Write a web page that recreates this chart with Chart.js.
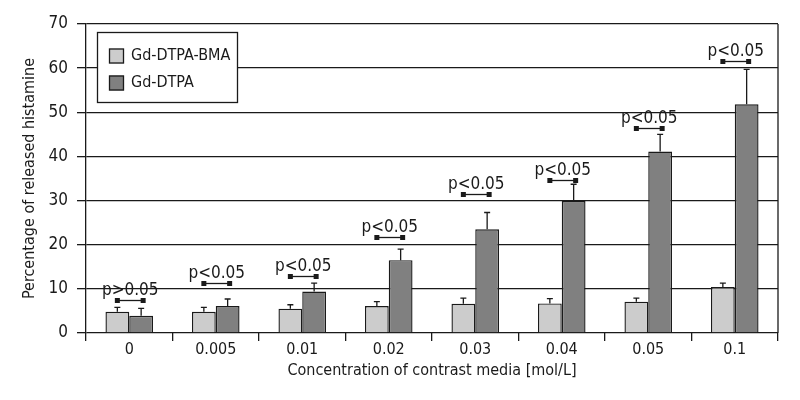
<!DOCTYPE html>
<html>
<head>
<meta charset="utf-8">
<script src="https://cdn.jsdelivr.net/npm/chart.js@4.4.1/dist/chart.umd.min.js"></script>
<style>
  html, body { margin: 0; background: #fff; }
  #wrap { width: 800px; height: 400px; }
</style>
</head>
<body>
<div id="wrap"><canvas id="histChart"></canvas></div>
<script>
// concentrations of contrast media [mol/L]
const concentrations = ["0", "0.005", "0.01", "0.02", "0.03", "0.04", "0.05", "0.1"];
// % released histamine, mean and SD (upper whisker only)
const bmaValues = [4.8, 4.8, 5.5, 6.1, 6.6, 6.7, 7.1, 10.4];
const bmaErr = [1.0, 1.0, 0.9, 1.0, 1.3, 1.1, 0.8, 0.9];
const dtpaValues = [3.9, 6.1, 9.4, 16.5, 23.5, 29.9, 41.1, 51.8];
const dtpaErr = [1.7, 1.6, 1.9, 2.5, 3.8, 3.8, 3.9, 7.9];
// significance brackets
const sigLevel = [7.5, 11.3, 12.9, 21.7, 31.4, 34.6, 46.5, 61.7];
const sigText = ["p>0.05", "p<0.05", "p<0.05", "p<0.05", "p<0.05", "p<0.05", "p<0.05", "p<0.05"];
const yTicks = [0, 10, 20, 30, 40, 50, 60, 70];

const FONT = "'DejaVu Sans Condensed', 'Liberation Sans Narrow', sans-serif";
const INK = "#1a1a1a";
Chart.defaults.font.family = FONT;
Chart.defaults.color = INK;

const errorBars = {
  id: "errorBars",
  afterDatasetsDraw(chart) {
    const ctx = chart.ctx;
    const y = chart.scales.y;
    const errs = [bmaErr, dtpaErr];
    ctx.save();
    ctx.strokeStyle = INK;
    ctx.lineWidth = 1.3;
    chart.data.datasets.forEach((ds, di) => {
      chart.getDatasetMeta(di).data.forEach((bar, i) => {
        const top = y.getPixelForValue(ds.data[i] + errs[di][i]);
        ctx.beginPath();
        ctx.moveTo(bar.x, bar.y);
        ctx.lineTo(bar.x, top);
        ctx.moveTo(bar.x - 3, top);
        ctx.lineTo(bar.x + 3, top);
        ctx.stroke();
      });
    });

    // significance brackets
    const m0 = chart.getDatasetMeta(0).data;
    const m1 = chart.getDatasetMeta(1).data;
    ctx.fillStyle = INK;
    ctx.font = "17px " + FONT;
    ctx.textAlign = "center";
    ctx.textBaseline = "alphabetic";
    sigLevel.forEach((lv, i) => {
      const py = Math.round(y.getPixelForValue(lv)) + 0.5;
      const x1 = m0[i].x, x2 = m1[i].x + 2;
      ctx.beginPath();
      ctx.moveTo(x1, py);
      ctx.lineTo(x2, py);
      ctx.stroke();
      ctx.fillRect(x1 - 2.5, py - 2.5, 5, 5);
      ctx.fillRect(x2 - 2.5, py - 2.5, 5, 5);
      ctx.fillText(sigText[i], (x1 + x2) / 2, py - 6);
    });
    ctx.restore();
  },
  afterDraw(chart) {
    const ctx = chart.ctx;
    const a = chart.chartArea;
    ctx.save();
    ctx.strokeStyle = INK;
    ctx.lineWidth = 1.3;
    // right frame line
    ctx.beginPath();
    ctx.moveTo(a.right, a.top);
    ctx.lineTo(a.right, a.bottom);
    ctx.stroke();

    // legend box
    const lx = a.left + 11, ly = a.top + 8, lw = 140, lh = 70;
    ctx.fillStyle = "#fff";
    ctx.fillRect(lx, ly, lw, lh);
    ctx.strokeRect(lx + 0.5, ly + 0.5, lw, lh);
    ctx.font = "16px " + FONT;
    ctx.textAlign = "left";
    ctx.textBaseline = "middle";
    chart.data.datasets.forEach((ds, di) => {
      const cy = ly + 24 + di * 27;
      ctx.fillStyle = ds.backgroundColor;
      ctx.fillRect(lx + 12, cy - 7.5, 15, 15);
      ctx.strokeRect(lx + 12.5, cy - 7, 14, 14);
      ctx.fillStyle = INK;
      ctx.fillText(ds.label, lx + 34, cy);
    });
    ctx.restore();
  }
};

new Chart(document.getElementById("histChart"), {
  type: "bar",
  data: {
    labels: concentrations,
    datasets: [
      {
        label: "Gd-DTPA-BMA",
        data: bmaValues,
        backgroundColor: "#cccccc",
        borderColor: INK,
        borderWidth: 1.4,
      },
      {
        label: "Gd-DTPA",
        data: dtpaValues,
        backgroundColor: "#808080",
        borderColor: INK,
        borderWidth: 1.4,
      },
    ],
  },
  options: {
    responsive: true,
    maintainAspectRatio: false,
    animation: false,
    layout: { padding: { top: 24, right: 22, left: 0, bottom: 0 } },
    datasets: { bar: { categoryPercentage: 0.55, barPercentage: 1.0 } },
    plugins: {
      legend: { display: false },
      tooltip: { enabled: false },
    },
    scales: {
      x: {
        grid: { display: true, drawOnChartArea: false, drawTicks: true, tickLength: 8, color: INK, lineWidth: 1.3, offset: true },
        border: { display: false },
        ticks: { font: { size: 16 }, color: INK, padding: -1 },
        title: { display: true, text: "Concentration of contrast media [mol/L]", font: { size: 16 }, color: INK, padding: { top: 0, bottom: 20 } },
        afterFit(scale) { scale.height = 67; },
      },
      y: {
        min: 0,
        max: 70,
        afterBuildTicks(scale) { scale.ticks = yTicks.map(v => ({ value: v })); },
        grid: { color: INK, lineWidth: 1.3, tickLength: 9 },
        border: { display: true, color: INK, width: 1.3 },
        ticks: { font: { size: 17 }, color: INK, padding: 9 },
        title: { display: true, text: "Percentage of released histamine", font: { size: 16 }, color: INK, padding: { top: 20, bottom: 0 } },
        afterFit(scale) { scale.width = 86; },
      },
    },
  },
  plugins: [errorBars],
});
</script>
</body>
</html>
